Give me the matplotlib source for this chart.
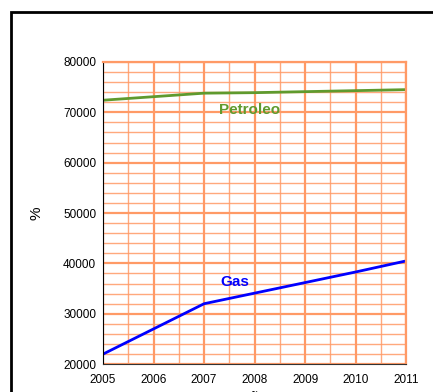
import matplotlib.pyplot as plt
from matplotlib.patches import Rectangle
import numpy as np

plt.rcParams['font.family'] = ['Liberation Sans', 'DejaVu Sans']

anios = [2005, 2006, 2007, 2008, 2009, 2010, 2011]
petroleo = [72400, 73100, 73800, 73900, 74100, 74300, 74500]
gas = [22000, 27000, 32000, 34100, 36200, 38300, 40500]

fig = plt.figure(figsize=(4.33, 3.92), dpi=100)
ax = fig.add_axes([0.238, 0.071, 0.700, 0.771])

# outer frame around the chart
fig.patches.append(Rectangle((11 / 433, -0.1), 1.0, 1 - 12 / 392 + 0.1,
                             transform=fig.transFigure, fill=False,
                             edgecolor='black', linewidth=2))

ax.set_xlim(2005, 2011)
ax.set_ylim(20000, 80000)
ax.set_xticks(anios)
ax.set_yticks(np.arange(20000, 80001, 10000))
ax.set_xticks(np.arange(2005.5, 2011, 1), minor=True)
ax.set_yticks(np.arange(20000, 80001, 2000), minor=True)

naranja = '#ff9a66'
ax.grid(which='major', color=naranja, linewidth=1.6)
ax.grid(which='minor', color=naranja, linewidth=1.0, alpha=0.85)
ax.set_axisbelow(True)
ax.tick_params(which='both', length=0, labelsize=8.5)
ax.tick_params(axis='y', pad=5)
ax.tick_params(axis='x', pad=7)

for lado in ['top', 'right']:
    ax.spines[lado].set_color(naranja)
    ax.spines[lado].set_linewidth(1.6)
ax.spines['left'].set_color('black')
ax.spines['bottom'].set_color('#333333')

ax.plot(anios, petroleo, color='#5f9a2e', linewidth=2)
ax.plot(anios, gas, color='#0000ff', linewidth=2)

ax.text(2007.9, 70400, 'Petroleo', color='#5f9a2e', fontsize=11,
        fontweight='bold', ha='center', va='center')
ax.text(2007.6, 36400, 'Gas', color='#0000ff', fontsize=11,
        fontweight='bold', ha='center', va='center')

ax.set_ylabel('%', fontsize=11)
ax.yaxis.set_label_coords(-0.195, 0.5)
ax.set_xlabel('Año', fontsize=11, labelpad=4)

fig.savefig('out.png', dpi=100)
